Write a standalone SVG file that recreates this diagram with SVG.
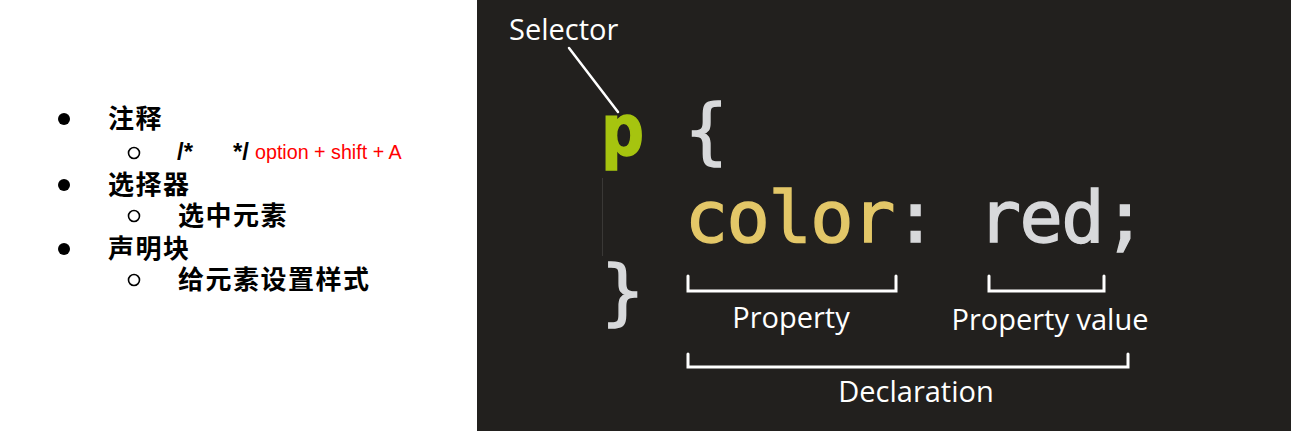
<svg xmlns="http://www.w3.org/2000/svg" width="1314" height="443" viewBox="0 0 1314 443">
<style>
.cjk{font-family:"Noto Sans CJK SC","Liberation Sans",sans-serif;font-size:26px;font-weight:700;fill:#000;letter-spacing:1.5px}
.blk{font-family:"Liberation Sans",Arial,sans-serif;font-size:24px;font-weight:700;fill:#000}
.red{font-family:"Liberation Sans",Arial,sans-serif;font-size:19.7px;fill:#ff0000}
.lbl{font-family:"Open Sans","Noto Sans",sans-serif;font-size:29px;fill:#ffffff}
.code{font-family:"DejaVu Sans Mono",monospace;font-size:72px;letter-spacing:-1.5px;stroke-width:1.4}
.g{fill:#a6c40f;stroke:#a6c40f}
.y{fill:#e3c768;stroke:#e3c768}
.w{fill:#d8d9db;stroke:#d8d9db}
.brk{fill:none;stroke:#ffffff;stroke-width:3;stroke-linecap:round;stroke-linejoin:miter}
.dot{fill:#000}
.ring{fill:none;stroke:#000;stroke-width:1.6}
</style>
<rect x="0" y="0" width="1314" height="443" fill="#ffffff"/>
<g id="notes">
<circle class="dot" cx="64" cy="119" r="6"/>
<text class="cjk" x="108" y="128">注释</text>
<circle class="ring" cx="134" cy="153" r="5.5"/>
<text class="blk" x="177" y="160">/*</text>
<text class="blk" x="233" y="160">*/</text>
<text class="red" x="255" y="159">option + shift + A</text>
<circle class="dot" cx="64" cy="185" r="6"/>
<text class="cjk" x="108" y="194">选择器</text>
<circle class="ring" cx="134" cy="216" r="5.5"/>
<text class="cjk" x="178" y="225">选中元素</text>
<circle class="dot" cx="64" cy="249" r="6"/>
<text class="cjk" x="108" y="258">声明块</text>
<circle class="ring" cx="134" cy="280" r="5.5"/>
<text class="cjk" x="178" y="289">给元素设置样式</text>
</g>
<rect id="panel" x="477" y="0" width="814" height="431" fill="#22201e"/>
<g id="code">
<line x1="602.5" y1="178" x2="602.5" y2="256" stroke="#3a3836" stroke-width="1"/>
<text class="code" x="601" y="155"><tspan class="g" font-weight="700">p</tspan><tspan class="w"> {</tspan></text>
<text class="code" x="601" y="242" xml:space="preserve"><tspan class="y">  color</tspan><tspan class="w">: red;</tspan></text>
<text class="code w" x="601" y="316">}</text>
</g>
<g id="selector">
<text class="lbl" x="509" y="40">Selector</text>
</g>
<g id="property">
<text class="lbl" x="791" y="328" text-anchor="middle">Property</text>
</g>
<g id="property-value">
<text class="lbl" x="1050" y="330" text-anchor="middle">Property value</text>
</g>
<g id="declaration">
<text class="lbl" x="916" y="402" text-anchor="middle">Declaration</text>
</g>
<g id="connectors">
<line x1="569" y1="48" x2="618" y2="112" stroke="#ffffff" stroke-width="2.5" stroke-linecap="round"/>
<path class="brk" d="M688,276 V291 H896 V276"/>
<path class="brk" d="M989,276 V291 H1104 V276"/>
<path class="brk" d="M688,354 V367 H1128 V354"/>
</g>
</svg>
